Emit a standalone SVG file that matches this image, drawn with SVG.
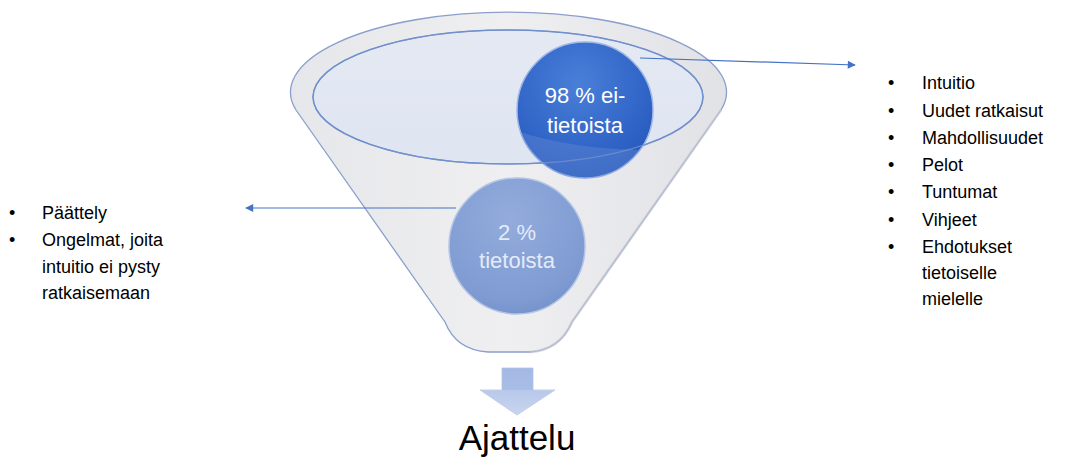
<svg xmlns="http://www.w3.org/2000/svg" width="1068" height="467" viewBox="0 0 1068 467">
<defs>
<linearGradient id="cone" x1="0" y1="0" x2="1" y2="0">
<stop offset="0" stop-color="#e6e7ea"/>
<stop offset="0.5" stop-color="#efeff1"/>
<stop offset="1" stop-color="#e1e2e6"/>
</linearGradient>
<linearGradient id="inner" x1="0" y1="0" x2="0" y2="1">
<stop offset="0" stop-color="#e4e9f3"/>
<stop offset="1" stop-color="#dfe5f1"/>
</linearGradient>
<radialGradient id="c1" cx="0.45" cy="0.3" r="0.75">
<stop offset="0" stop-color="#4a7fd8"/>
<stop offset="0.7" stop-color="#2f63c6"/>
<stop offset="1" stop-color="#2557b8"/>
</radialGradient>
<radialGradient id="c2" cx="0.45" cy="0.3" r="0.75">
<stop offset="0" stop-color="#93acdc"/>
<stop offset="0.8" stop-color="#7f9bd2"/>
<stop offset="1" stop-color="#7390ca"/>
</radialGradient>
<linearGradient id="arr" x1="0" y1="0" x2="0" y2="1">
<stop offset="0" stop-color="#a9bde6"/>
<stop offset="1" stop-color="#c9d5ef"/>
</linearGradient>
<marker id="ah" viewBox="0 0 10 10" refX="9" refY="5" markerWidth="10" markerHeight="8" markerUnits="userSpaceOnUse" orient="auto">
<path d="M0,0 L10,5 L0,10 Z" fill="#4472c4"/>
</marker>
</defs>
<style>
.lst{font-family:"Liberation Sans",Arial,sans-serif;font-size:18px;fill:#000}
.ctext{font-family:"Liberation Sans",Arial,sans-serif;font-size:22px;text-anchor:middle}
.conn{stroke:#4472c4;stroke-width:1.2;fill:none}
</style>
<rect width="1068" height="467" fill="#ffffff"/>
<g id="funnel">
<path d="M296,110 L445,322 Q456,350 488,352 L530,352 Q560,350 572,322 L721,110 A218 80 0 1 0 296,110 Z" fill="url(#cone)" stroke="#8a9fcc" stroke-width="1.3"/>
<path d="M721,110 L572,322 Q560,350 530,352" fill="none" stroke="#c9ccd4" stroke-width="3" opacity="0.6"/>
<ellipse cx="508" cy="97" rx="195" ry="67" fill="url(#inner)" stroke="#7190cc" stroke-width="1.5"/>
</g>
<g id="node-98">
<circle cx="585" cy="110" r="68" fill="url(#c1)" stroke="#9db6e6" stroke-width="1.5"/>
<path d="M520,132 A195 67 0 0 0 640,150 A68 68 0 0 1 520,132 Z" fill="#6f93d6" opacity="0.35"/>
<ellipse cx="508" cy="97" rx="195" ry="67" fill="none" stroke="#7190cc" stroke-width="1.2" opacity="0.8"/>
<text class="ctext" x="585" y="103" fill="#ffffff">98 % ei-</text>
<text class="ctext" x="585" y="133" fill="#ffffff">tietoista</text>
</g>
<g id="node-2">
<circle cx="517" cy="246" r="68" fill="url(#c2)" stroke="#b3c4e6" stroke-width="1.5"/>
<text class="ctext" x="517" y="240" fill="#e4ebf8">2 %</text>
<text class="ctext" x="517" y="268" fill="#e4ebf8">tietoista</text>
</g>
<g id="arrow-down">
<path d="M502,368 L533,368 L533,390 L555,390 L517,415 L480,390 L502,390 Z" fill="url(#arr)" stroke="#c4cfe6" stroke-width="1"/>
<path d="M502,368 L533,368 L533,390 L502,390 Z" fill="#9fb5e2" opacity="0.6"/>
</g>
<g id="label-ajattelu">
<text x="517" y="450" text-anchor="middle" font-family="'Liberation Sans',Arial,sans-serif" font-size="35" fill="#000">Ajattelu</text>
</g>
<g id="connectors">
<path class="conn" d="M640,58 L855,65" marker-end="url(#ah)"/>
<path class="conn" d="M456,208 L246,208" marker-end="url(#ah)"/>
</g>
<g id="list-right" class="lst">
<text x="888" y="89">•</text><text x="922" y="89">Intuitio</text>
<text x="888" y="117">•</text><text x="922" y="117">Uudet ratkaisut</text>
<text x="888" y="144">•</text><text x="922" y="144">Mahdollisuudet</text>
<text x="888" y="171">•</text><text x="922" y="171">Pelot</text>
<text x="888" y="198">•</text><text x="922" y="198">Tuntumat</text>
<text x="888" y="226">•</text><text x="922" y="226">Vihjeet</text>
<text x="888" y="253">•</text><text x="922" y="253">Ehdotukset</text>
<text x="922" y="279">tietoiselle</text>
<text x="922" y="305">mielelle</text>
</g>
<g id="list-left" class="lst">
<text x="9" y="219">•</text><text x="42" y="219">Päättely</text>
<text x="9" y="246">•</text><text x="42" y="246">Ongelmat, joita</text>
<text x="42" y="273">intuitio ei pysty</text>
<text x="42" y="299">ratkaisemaan</text>
</g>
</svg>
